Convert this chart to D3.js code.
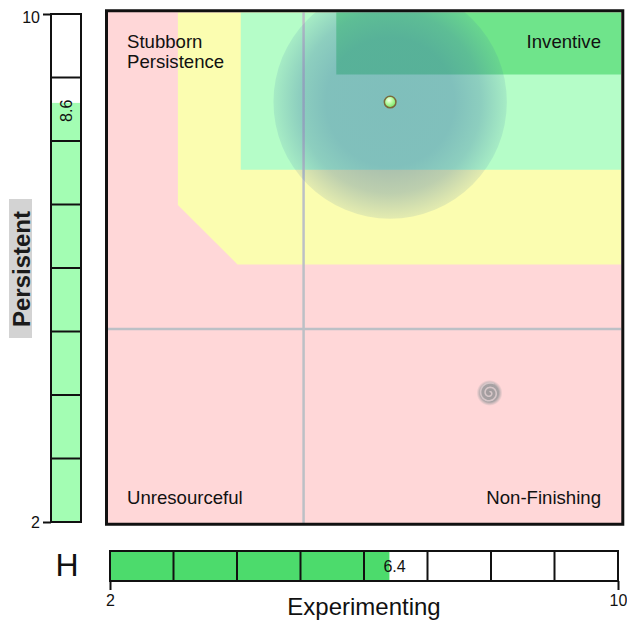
<!DOCTYPE html>
<html>
<head>
<meta charset="utf-8">
<script src="https://cdn.jsdelivr.net/npm/d3@7"></script>
<style>
  body { margin: 0; background: #fff; }
  svg { display: block; font-family: Arial, "Liberation Sans", sans-serif; }
</style>
</head>
<body>
<svg width="627" height="621"></svg>
<script>
// scores and axis setup
const axisNames = ['Experimenting', 'Persistent'];
const scoreValues = [6.4, 8.6];
const scoreDomain = [2, 10];
const tickValues = [2, 10];
const gridValues = [5.05];

// zones, in score units (x, y)
const zoneNames = ['yellow', 'lightgreen', 'darkgreen'];
const zoneColors = ['#fbfdb0', '#b5fdc8', '#6fe48b'];
const zonePolygons = [
  [[3.09, 10], [10, 10], [10, 6.06], [4.02, 6.06], [3.09, 6.99]],
  [[4.07, 10], [10, 10], [10, 7.54], [4.07, 7.54]],
  [[5.56, 10], [10, 10], [10, 9.03], [5.56, 9.03]]
];

// quadrant labels
const quadrantText = [['Stubborn', 'Persistence'], ['Inventive'], ['Unresourceful'], ['Non-Finishing']];
const quadrantCorner = ['tl', 'tr', 'bl', 'br'];

// markers
const swirlPos = [7.95, 4.05];
const haloRadius = 1.82;

const svg = d3.select('svg');
const defs = svg.append('defs');

let x = d3.scaleLinear().domain(scoreDomain).range([108, 621]);
let y = d3.scaleLinear().domain(scoreDomain).range([524, 12.5]);

defs.append('clipPath').attr('id', 'plotClip')
  .append('rect').attr('x', 106.5).attr('y', 10.75).attr('width', 516.3).attr('height', 513.5);

// halo gradient
let halo = defs.append('radialGradient').attr('id', 'halo');
[[0, 0.43], [0.55, 0.42], [0.78, 0.32], [1, 0.12]].forEach(s => {
  halo.append('stop').attr('offset', s[0]).attr('stop-color', 'rgb(56,108,171)').attr('stop-opacity', s[1]);
});
let dot = defs.append('radialGradient').attr('id', 'dotGrad').attr('cx', 0.4).attr('cy', 0.35).attr('r', 0.65);
dot.append('stop').attr('offset', 0).attr('stop-color', '#f4fff0');
dot.append('stop').attr('offset', 0.45).attr('stop-color', '#b8fca0');
dot.append('stop').attr('offset', 1).attr('stop-color', '#78e468');
let swirlG = defs.append('radialGradient').attr('id', 'swirlGrad');
swirlG.append('stop').attr('offset', 0).attr('stop-color', '#a09a9c').attr('stop-opacity', 1);
swirlG.append('stop').attr('offset', 0.7).attr('stop-color', '#a8a2a4').attr('stop-opacity', 1);
swirlG.append('stop').attr('offset', 1).attr('stop-color', '#b8b0b2').attr('stop-opacity', 0);

let plot = svg.append('g').attr('clip-path', 'url(#plotClip)');
plot.append('rect').attr('x', 106.5).attr('y', 10.75).attr('width', 516.3).attr('height', 513.5)
  .attr('fill', '#ffd7d8');

plot.selectAll('polygon.zone')
  .data(zonePolygons)
  .enter()
  .append('polygon')
  .attr('class', (d, i) => 'zone ' + zoneNames[i])
  .attr('fill', (d, i) => zoneColors[i])
  .attr('points', d => d.map(p => x(p[0]) + ',' + y(p[1])).join(' '));

// grid lines
plot.selectAll('line.vgrid').data(gridValues).enter().append('line')
  .attr('x1', d => x(d)).attr('x2', d => x(d)).attr('y1', y(2)).attr('y2', y(10))
  .attr('stroke', '#bcc0c6').attr('stroke-width', 2.5);
plot.selectAll('line.hgrid').data(gridValues).enter().append('line')
  .attr('y1', d => y(d)).attr('y2', d => y(d)).attr('x1', x(2)).attr('x2', x(10))
  .attr('stroke', '#bcc0c6').attr('stroke-width', 2.5);

// halo round the score
plot.append('circle')
  .attr('cx', x(scoreValues[0])).attr('cy', y(scoreValues[1]))
  .attr('r', x(2 + haloRadius) - x(2))
  .attr('fill', 'url(#halo)');

// swirl marker
let sw = plot.append('g').attr('transform', 'translate(' + x(swirlPos[0]) + ',' + y(swirlPos[1]) + ')');
sw.append('circle').attr('r', 13).attr('fill', 'url(#swirlGrad)');
let spiral = d3.range(0, 4.2 * Math.PI, 0.2).map(t => [t, 1 + t * 0.72]);
sw.append('path')
  .attr('d', d3.lineRadial().angle(d => d[0]).radius(d => d[1]).curve(d3.curveCatmullRom)(spiral))
  .attr('fill', 'none').attr('stroke', '#d6c6c8').attr('stroke-width', 1.6);

// score point
plot.append('circle')
  .attr('cx', x(scoreValues[0])).attr('cy', y(scoreValues[1])).attr('r', 5.8)
  .attr('fill', 'url(#dotGrad)').attr('stroke', '#7a6a3c').attr('stroke-width', 1.5);

// quadrant labels
quadrantText.forEach((lines, i) => {
  let c = quadrantCorner[i];
  let tx = c[1] === 'l' ? 127 : 601;
  let ty = c[0] === 't' ? 47.5 : 504;
  let t = svg.append('text')
    .attr('x', tx).attr('y', ty)
    .attr('text-anchor', c[1] === 'l' ? 'start' : 'end')
    .attr('font-size', 18.6).attr('fill', '#111');
  lines.forEach((s, j) => t.append('tspan').attr('x', tx).attr('dy', j ? 20 : 0).text(s));
});

// frame
svg.append('rect').attr('x', 106.5).attr('y', 10.75).attr('width', 516.3).attr('height', 513.5)
  .attr('fill', 'none').attr('stroke', '#111').attr('stroke-width', 3);

// left bar (Persistent)
let yBar = d3.scaleLinear().domain(scoreDomain).range([522, 14]);
let lb = svg.append('g');
lb.append('rect').attr('x', 51).attr('y', yBar(scoreValues[1])).attr('width', 30)
  .attr('height', yBar(2) - yBar(scoreValues[1])).attr('fill', '#a3fdb3');
lb.selectAll('line').data(d3.range(3, 10)).enter().append('line')
  .attr('x1', 51).attr('x2', 81).attr('y1', d => yBar(d)).attr('y2', d => yBar(d))
  .attr('stroke', '#111').attr('stroke-width', 2);
lb.append('rect').attr('x', 51).attr('y', yBar(10)).attr('width', 30).attr('height', yBar(2) - yBar(10))
  .attr('fill', 'none').attr('stroke', '#111').attr('stroke-width', 2);
lb.append('text')
  .attr('transform', 'translate(72,' + (yBar(scoreValues[1]) + 19) + ') rotate(-90)')
  .attr('font-size', 16).attr('fill', '#111').text(scoreValues[1]);

let yAxis = d3.axisLeft(yBar).tickValues(tickValues).tickSize(8).tickSizeOuter(0).tickPadding(3);
let yAxisG = svg.append('g').attr('id', 'yAxisG').attr('transform', 'translate(51,0)').call(yAxis);
yAxisG.select('.domain').remove();
yAxisG.selectAll('line').attr('stroke', '#111').attr('stroke-width', 2);
yAxisG.selectAll('text').attr('font-size', 16).attr('fill', '#111').attr('font-family', 'Arial, sans-serif')
  .attr('dy', d => d === 10 ? '0.55em' : '0.32em');

// Persistent label with grey back
svg.append('rect').attr('x', 9).attr('y', 199).attr('width', 23).attr('height', 139).attr('fill', '#d3d3d3');
svg.append('text')
  .attr('transform', 'translate(30,269) rotate(-90)')
  .attr('text-anchor', 'middle').attr('font-size', 24).attr('font-weight', 'bold').attr('fill', '#1a1a1a')
  .text(axisNames[1]);

// bottom bar (Experimenting)
let xBar = d3.scaleLinear().domain(scoreDomain).range([110, 618]);
let bb = svg.append('g');
bb.append('rect').attr('x', xBar(2)).attr('y', 551).attr('width', xBar(scoreValues[0]) - xBar(2))
  .attr('height', 30).attr('fill', '#4cdb6c');
bb.selectAll('line').data(d3.range(3, 10)).enter().append('line')
  .attr('y1', 551).attr('y2', 581).attr('x1', d => xBar(d)).attr('x2', d => xBar(d))
  .attr('stroke', '#111').attr('stroke-width', 2);
bb.append('rect').attr('x', xBar(2)).attr('y', 551).attr('width', xBar(10) - xBar(2)).attr('height', 30)
  .attr('fill', 'none').attr('stroke', '#111').attr('stroke-width', 2);
bb.append('text')
  .attr('x', xBar(scoreValues[0]) - 6).attr('y', 572)
  .attr('font-size', 16).attr('fill', '#111').text(scoreValues[0]);

let xAxis = d3.axisBottom(xBar).tickValues(tickValues).tickSize(9).tickSizeOuter(0).tickPadding(5);
let xAxisG = svg.append('g').attr('id', 'xAxisG').attr('transform', 'translate(0,581)').call(xAxis);
xAxisG.select('.domain').remove();
xAxisG.selectAll('line').attr('stroke', '#111').attr('stroke-width', 2);
xAxisG.selectAll('text').attr('font-size', 16).attr('fill', '#111').attr('font-family', 'Arial, sans-serif');

svg.append('text').attr('x', 364).attr('y', 615).attr('text-anchor', 'middle')
  .attr('font-size', 24).attr('fill', '#111').text(axisNames[0]);

svg.append('text').attr('x', 67).attr('y', 576).attr('text-anchor', 'middle')
  .attr('font-size', 32).attr('fill', '#111').text('H');
</script>
</body>
</html>
